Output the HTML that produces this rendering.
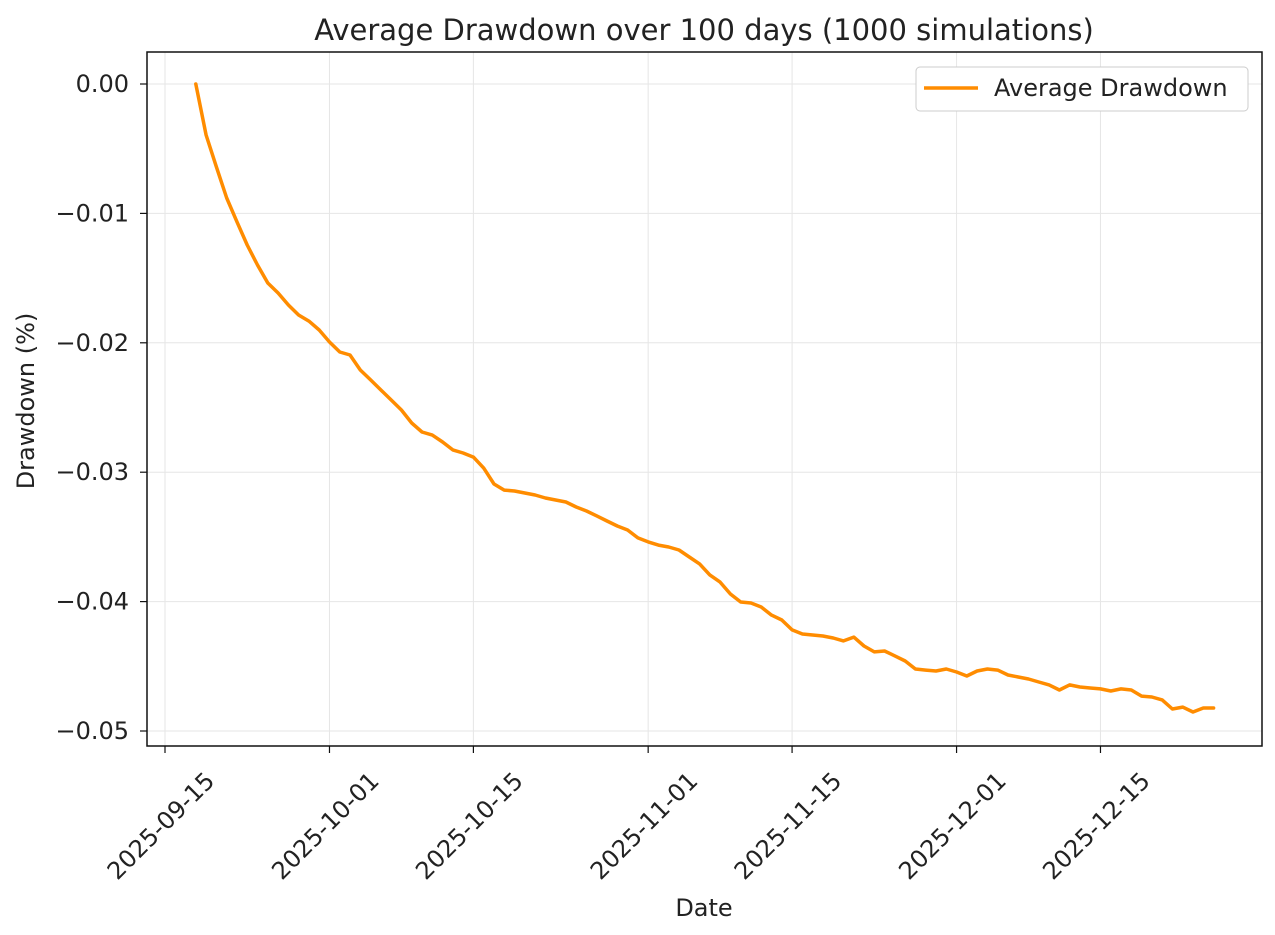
<!DOCTYPE html>
<html><head><meta charset="utf-8">
<style>
body{margin:0;background:#fff;font-family:"Liberation Sans","DejaVu Sans",sans-serif;}
svg text{font-family:"DejaVu Sans","Liberation Sans",sans-serif;fill:#222;}
</style></head>
<body>
<svg id="chart" width="1275" height="930">
<rect width="1275" height="930" fill="#fff"/>
<text x="704" y="40" text-anchor="middle" font-size="29">Average Drawdown over 100 days (1000 simulations)</text>
<g id="grid"></g>
<g id="axes"></g>
<g id="series"></g>
<rect x="147" y="52" width="1115" height="694" fill="none" stroke="#111" stroke-width="1.5"/>
<text x="704" y="916" text-anchor="middle" font-size="24">Date</text>
<text transform="translate(34,401) rotate(-90)" text-anchor="middle" font-size="24">Drawdown (%)</text>
<g>
<rect x="916" y="67" width="332" height="44" rx="4" fill="#fff" stroke="#ccc"/>
<line x1="924" y1="88" x2="978" y2="88" stroke="#ff8c00" stroke-width="3.5"/>
<text x="994" y="96" font-size="24">Average Drawdown</text>
</g>
</svg>
<script>
const startDate = "2025-09-18";
const tickDates = ["2025-09-15","2025-10-01","2025-10-15","2025-11-01","2025-11-15","2025-12-01","2025-12-15"];
const yTicks = [0, -0.01, -0.02, -0.03, -0.04, -0.05];
const yTickLabels = ["0.00","\u22120.01","\u22120.02","\u22120.03","\u22120.04","\u22120.05"];
const drawdown = [0,-0.00394,-0.00641,-0.00881,-0.01066,-0.01244,-0.01399,-0.01538,-0.01615,-0.01708,
-0.01785,-0.01832,-0.01901,-0.01994,-0.02071,-0.02094,-0.02210,-0.02287,-0.02365,-0.02442,
-0.02519,-0.02620,-0.02689,-0.02713,-0.02767,-0.02828,-0.02852,-0.02883,-0.02968,-0.03091,
-0.03138,-0.03145,-0.03161,-0.03176,-0.03199,-0.03215,-0.03230,-0.03269,-0.03300,-0.03338,
-0.03377,-0.03416,-0.03447,-0.03508,-0.03539,-0.03563,-0.03578,-0.03601,-0.03655,-0.03709,
-0.03794,-0.03849,-0.03941,-0.04003,-0.04011,-0.04042,-0.04104,-0.04142,-0.04219,-0.04250,
-0.04258,-0.04266,-0.04281,-0.04304,-0.04274,-0.04343,-0.04389,-0.04382,-0.04420,-0.04459,
-0.04521,-0.04529,-0.04536,-0.04521,-0.04544,-0.04575,-0.04536,-0.04521,-0.04529,-0.04567,
-0.04583,-0.04598,-0.04621,-0.04644,-0.04683,-0.04644,-0.04660,-0.04668,-0.04675,-0.04691,
-0.04675,-0.04683,-0.04730,-0.04737,-0.04760,-0.04830,-0.04815,-0.04853,-0.04822,-0.04822];

const NS="http://www.w3.org/2000/svg";
const DAY=86400000;
const base=Date.UTC(2025,8,15);
function dayOf(s){const p=s.split("-");return (Date.UTC(+p[0],p[1]-1,+p[2])-base)/DAY;}
function xs(d){return 165+d*10.28;}
function ys(v){return 84-v*12940;}
function mk(tag,attrs,parent){const e=document.createElementNS(NS,tag);for(const k in attrs)e.setAttribute(k,attrs[k]);parent.appendChild(e);return e;}
const grid=document.getElementById("grid"),axes=document.getElementById("axes"),series=document.getElementById("series");
tickDates.forEach(t=>{
  const x=xs(dayOf(t));
  const g=mk("line",{x1:x,x2:x,y1:52,y2:746,stroke:"#e6e6e6","stroke-width":1},grid);
  
  
  const tk=mk("line",{x1:x,x2:x,y1:746,y2:753,stroke:"#111","stroke-width":1.2},axes);
  
  
  const tx=mk("text",{transform:`translate(${x-4},${826}) rotate(-45)`,"text-anchor":"middle","dominant-baseline":"central","font-size":24},axes);
  tx.textContent=t;
  
  
});
yTicks.forEach((v,i)=>{
  const y=ys(v);
  const g=mk("line",{x1:147,x2:1262,y1:y,y2:y,stroke:"#e6e6e6","stroke-width":1},grid);
  
  
  const tk=mk("line",{x1:140,x2:147,y1:y,y2:y,stroke:"#111","stroke-width":1.2},axes);
  
  
  const tx=mk("text",{x:129,y:y+8,"text-anchor":"end","font-size":24},axes);
  tx.textContent=yTickLabels[i];
  
  
});
const d0=dayOf(startDate);
const pts=drawdown.map((v,i)=>xs(d0+i).toFixed(1)+","+ys(v).toFixed(1)).join(" ");
const line=mk("polyline",{points:pts,fill:"none",stroke:"#ff8c00","stroke-width":3.5,"stroke-linejoin":"round","stroke-linecap":"round"},series);


</script>
</body></html>
